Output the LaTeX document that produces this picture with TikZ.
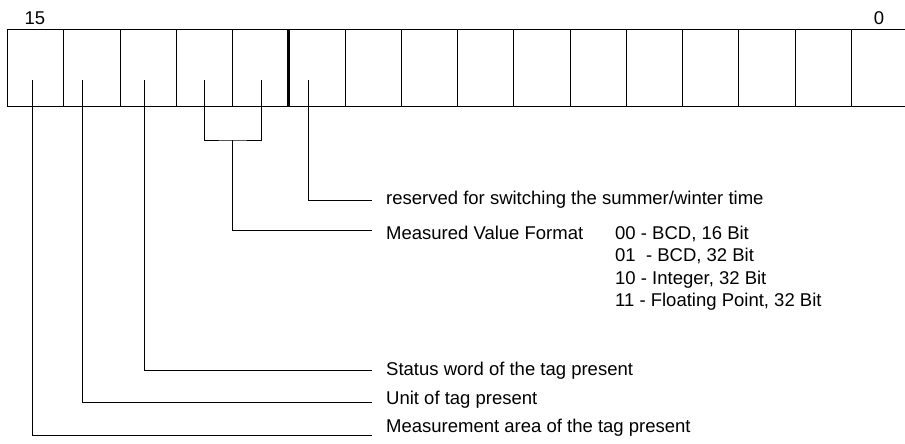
\documentclass[tikz,border=0pt]{standalone}
\usepackage{fontspec}
\setmainfont{Liberation Sans}
\begin{document}
\begin{tikzpicture}[x=1pt,y=-1pt]
\tikzset{
  cell/.style={minimum width=56.25pt, minimum height=76pt, inner sep=0pt, outer sep=0pt, anchor=north west},
  grid/.style={draw=black, line width=1pt},
  lead/.style={draw=black, line width=1pt},
  lbl/.style={anchor=base west, inner sep=0pt, font=\fontsize{18.5}{22}\selectfont},
  bitnum/.style={anchor=base, inner sep=0pt, font=\fontsize{18.5}{22}\selectfont}
}
\useasboundingbox (0,0) rectangle (905,444);
\clip (0,0) rectangle (905,444);
\fill[white] (0,0) rectangle (905,444);
% register cells, bit 15 at the left
\foreach \i in {0,...,15} {
  \pgfmathtruncatemacro\bit{15-\i}
  \pgfmathsetmacro\xl{7.5+56.25*\i}
  \node[cell] (b\bit) at (\xl,30) {};
}
\draw[grid] (b0.north east) -- (b15.north west) -- (b15.south west) -- (b0.south east);
\foreach \bit in {15,14,13,12,10,9,8,7,6,5,4,3,2,1} {
  \draw[grid] (b\bit.north east) -- (b\bit.south east);
}
\draw[line width=2.6pt] (b11.north east) -- (b11.south east);
\node[bitnum] (n15) at (35,25) {15};
\node[bitnum] (n0) at (879,25) {0};
% pointer starts
\coordinate (p15) at (32,80);
\coordinate (p14) at (82,80);
\coordinate (p13) at (144,80);
\coordinate (p12) at (204,80);
\coordinate (p11) at (261,80);
\coordinate (p10) at (308,80);
\coordinate (j) at (232.5,140);
% pointer ends
\coordinate (e10) at (372,200);
\coordinate (e1211) at (372,230);
\coordinate (e13) at (372,370.7);
\coordinate (e14) at (372,402.7);
\coordinate (e15) at (372,435);
% leaders
\draw[lead] (p15) |- (e15);
\draw[lead] (p14) |- (e14);
\draw[lead] (p13) |- (e13);
\draw[lead] (p12) |- (j) -| (p11);
\draw[lead] (j) |- (e1211);
\draw[lead] (p10) |- (e10);
% labels
\node[lbl] (t10) at (386,204.5) {reserved for switching the summer/winter time};
\node[lbl] (t1211) at (386,239.5) {Measured Value Format};
\node[lbl] (f00) at (615,239) {00 - BCD, 16 Bit};
\node[lbl] (f01) at (615,261.5) {01\ \ - BCD, 32 Bit};
\node[lbl] (f10) at (615,284) {10 - Integer, 32 Bit};
\node[lbl] (f11) at (615,306.5) {11 - Floating Point, 32 Bit};
\node[lbl] (t13) at (386,375) {Status word of the tag present};
\node[lbl] (t14) at (386,404) {Unit of tag present};
\node[lbl] (t15) at (386,432) {Measurement area of the tag present};
\end{tikzpicture}
\end{document}
